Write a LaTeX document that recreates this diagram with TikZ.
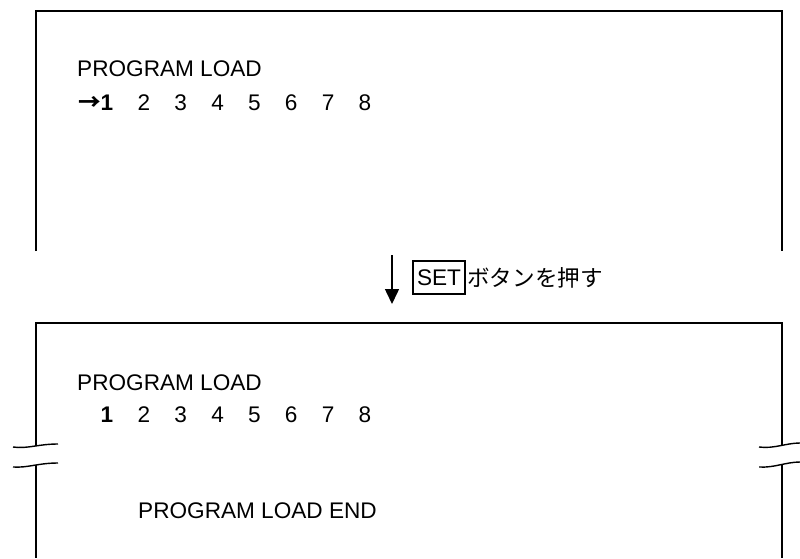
\documentclass[tikz,border=0pt]{standalone}
\usepackage{fontspec}
\setmainfont{Liberation Sans}
\newfontfamily\jp{Noto Sans CJK JP}
\usetikzlibrary{arrows.meta}
\begin{document}
\begin{tikzpicture}[x=1pt,y=-1pt,
  frame/.style={line width=1.8pt},
  wave/.style={line width=1.4pt},
  txt/.style={anchor=base west,inner sep=0pt,font=\fontsize{22.6}{26}\selectfont},
  dig/.style={anchor=base,inner sep=0pt,font=\fontsize{22.6}{26}\selectfont},
  flow/.style={line width=1.5pt,-{Triangle[length=15pt,width=14pt]}}]
\useasboundingbox (0,0) rectangle (800,558);
% top screen
\coordinate (t1) at (36,251);
\coordinate (t2) at (36,11);
\coordinate (t3) at (782,11);
\coordinate (t4) at (782,251);
\draw[frame] (t1) -- (t2) -- (t3) -- (t4);
\node[txt] (pl1) at (77,76) {PROGRAM LOAD};
\node[dig,anchor=base east] (ar) at (101,110) {\jp\bfseries →};
\node[dig,font=\fontsize{22.6}{26}\selectfont\bfseries] (a1) at (107,110) {1};
\foreach \i [count=\k] in {2,...,8}
  \node[dig] (a\i) at ({107+36.85*\k},110) {\i};
% arrow and label
\coordinate (fa) at (392,255);
\coordinate (fb) at (392,304);
\draw[flow] (fa) -- (fb);
\node[draw,line width=1.2pt,inner sep=0pt,minimum width=52pt,minimum height=33pt,
  font=\fontsize{22.6}{26}\selectfont] (set) at (439,277.5) {SET};
\node[anchor=west,inner sep=0pt,font=\fontsize{22.6}{26}\selectfont\jp] (lbl) at (467,277.5) {ボタンを押す};
% bottom screen
\coordinate (b1) at (36,446);
\coordinate (b2) at (36,323);
\coordinate (b3) at (782,323);
\coordinate (b4) at (782,446);
\coordinate (b5) at (36,465);
\coordinate (b6) at (36,558);
\coordinate (b7) at (782,465);
\coordinate (b8) at (782,558);
\draw[frame] (b1) -- (b2) -- (b3) -- (b4);
\draw[frame] (b5) -- (b6);
\draw[frame] (b7) -- (b8);
\draw[wave] (13,447) .. controls (28,449) and (38,444) .. (58,444);
\draw[wave] (13,467) .. controls (28,468) and (38,463) .. (58,463);
\draw[wave] (759,447) .. controls (774,449) and (786,443) .. (800,443);
\draw[wave] (759,467) .. controls (774,468) and (786,462) .. (800,462);
\node[txt] (pl2) at (77,390) {PROGRAM LOAD};
\node[dig,font=\fontsize{22.6}{26}\selectfont\bfseries] (c1) at (107,422) {1};
\foreach \i [count=\k] in {2,...,8}
  \node[dig] (c\i) at ({107+36.85*\k},422) {\i};
\node[txt] (ple) at (138,518) {PROGRAM LOAD END};
\end{tikzpicture}
\end{document}
